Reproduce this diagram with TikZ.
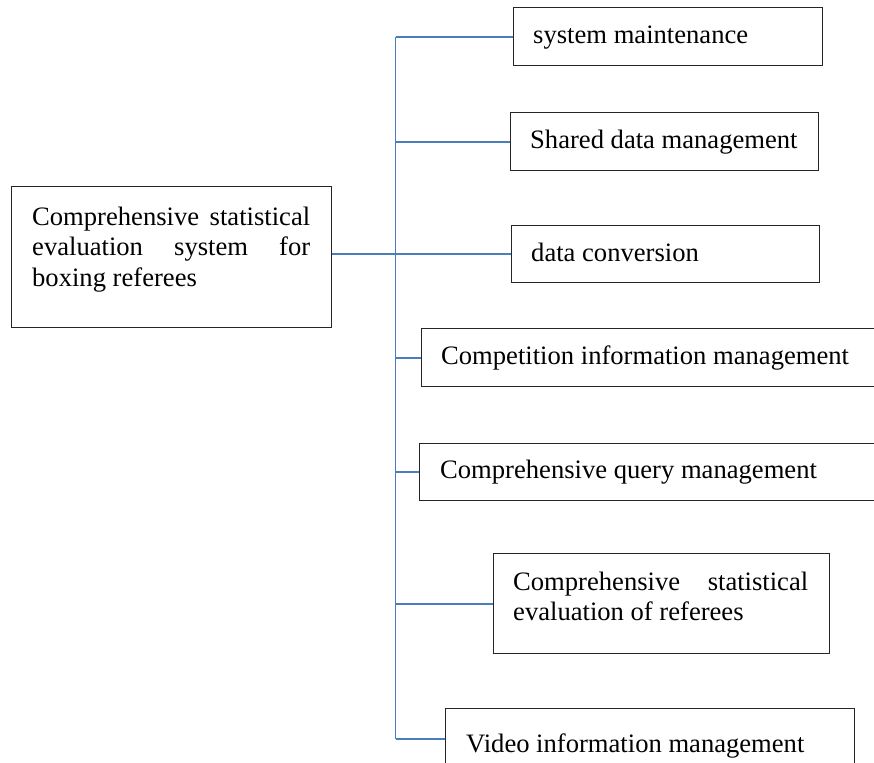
\documentclass[tikz,border=0pt]{standalone}
\usepackage{fontspec}
\setmainfont{Liberation Serif}
\definecolor{linkblue}{HTML}{4A7EBB}
\tikzset{
  box/.style={draw=black!85, line width=1.3bp, rectangle, inner sep=0pt, anchor=north west},
  lbl/.style={anchor=base west, inner sep=0pt, font=\fontsize{26.6bp}{30.5bp}\selectfont},
  conn/.style={draw=linkblue, line width=1.9bp}
}
\begin{document}
\begin{tikzpicture}[x=1bp,y=-1bp]
\useasboundingbox (0,0) rectangle (874,763);
\clip (0,0) rectangle (874,763);
% boxes
\node[box, minimum width=320bp, minimum height=141bp] (root) at (11,186) {};
\node[box, minimum width=309bp, minimum height=58bp] (b1) at (513,7) {};
\node[box, minimum width=308bp, minimum height=58bp] (b2) at (510,112) {};
\node[box, minimum width=308bp, minimum height=57bp] (b3) at (511,225) {};
\node[box, minimum width=465bp, minimum height=58bp] (b4) at (421,328) {};
\node[box, minimum width=467bp, minimum height=57bp] (b5) at (419,443) {};
\node[box, minimum width=336bp, minimum height=100bp] (b6) at (493,553) {};
\node[box, minimum width=409bp, minimum height=60bp] (b7) at (445,708) {};
% texts
\node[lbl] (t0a) at (32,225) {\hbox to 278bp{Comprehensive\hfill statistical}};
\node[lbl] (t0b) at (32,255.5) {\hbox to 278bp{evaluation\hfill system\hfill for}};
\node[lbl] (t0c) at (32,286) {boxing referees};
\node[lbl] (t1) at (533,43.5) {system maintenance};
\node[lbl] (t2) at (530,148.5) {Shared data management};
\node[lbl] (t3) at (531,261) {data conversion};
\node[lbl] (t4) at (441,364) {Competition information management};
\node[lbl] (t5) at (440,478.5) {Comprehensive query management};
\node[lbl] (t6a) at (513,590) {\hbox to 295bp{Comprehensive\hfill statistical}};
\node[lbl] (t6b) at (513,620) {evaluation of referees};
\node[lbl] (t7) at (466,752) {Video information management};
% spine
\coordinate (stop) at (395.5,0 |- b1.west);
\coordinate (sbot) at (b7.west -| stop);
\draw[conn] (stop) -- (sbot);
\draw[conn] (b3.west) -- (b3.west -| root.east);
\foreach \b in {b1,b2,b4,b5,b6,b7}{
  \draw[conn] (\b.west) -- (\b.west -| stop);
}
\end{tikzpicture}
\end{document}
